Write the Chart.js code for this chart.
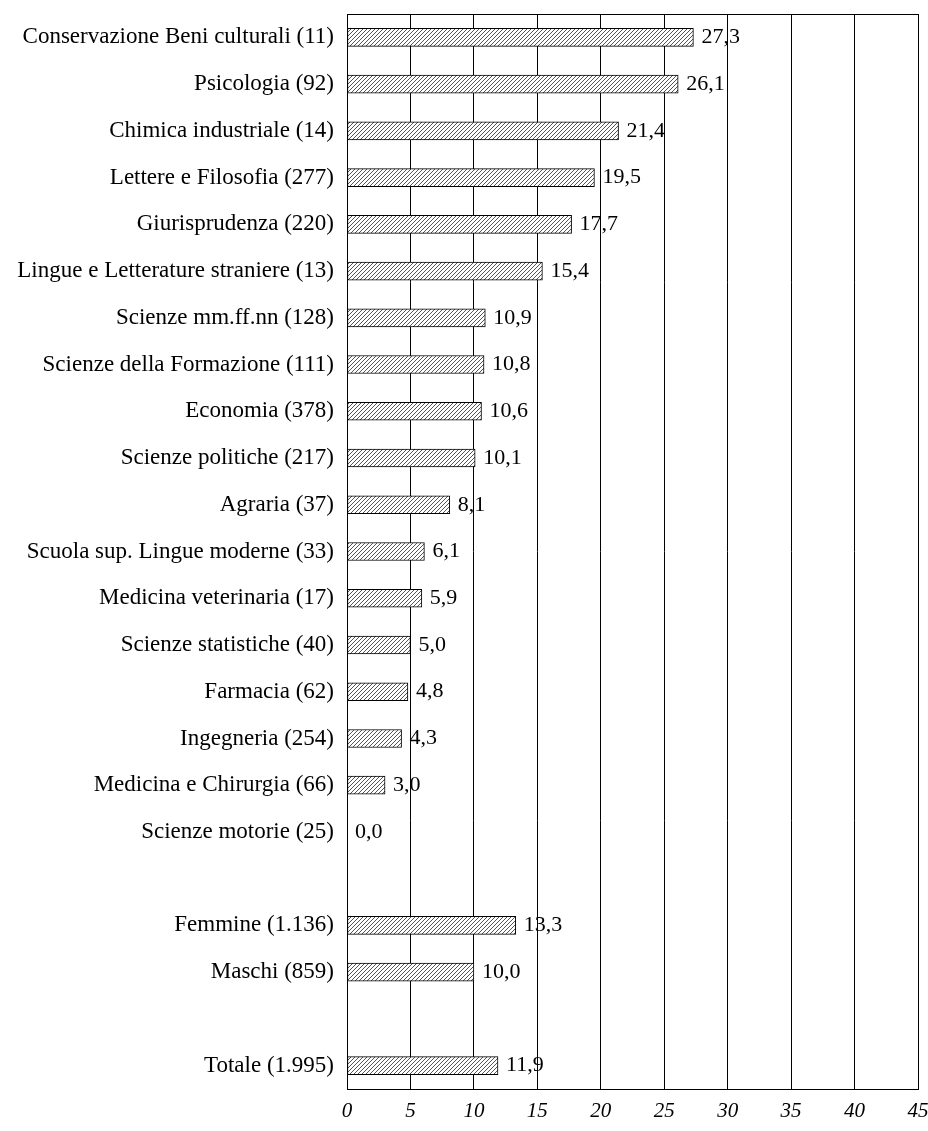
<!DOCTYPE html>
<html>
<head>
<meta charset="utf-8">
<script src="https://cdn.jsdelivr.net/npm/chart.js@4.4.1/dist/chart.umd.min.js"></script>
<style>
  html, body { margin: 0; padding: 0; background: #fff; }
  #wrap { width: 928px; height: 1131px; }
</style>
</head>
<body>
<div id="wrap"><canvas id="mychart" width="928" height="1131"></canvas></div>
<script>
// categorie (le righe vuote separano i gruppi)
const labels = [
  'Conservazione Beni culturali (11)',
  'Psicologia (92)',
  'Chimica industriale (14)',
  'Lettere e Filosofia (277)',
  'Giurisprudenza (220)',
  'Lingue e Letterature straniere (13)',
  'Scienze mm.ff.nn (128)',
  'Scienze della Formazione (111)',
  'Economia (378)',
  'Scienze politiche (217)',
  'Agraria (37)',
  'Scuola sup. Lingue moderne (33)',
  'Medicina veterinaria (17)',
  'Scienze statistiche (40)',
  'Farmacia (62)',
  'Ingegneria (254)',
  'Medicina e Chirurgia (66)',
  'Scienze motorie (25)',
  '',
  'Femmine (1.136)',
  'Maschi (859)',
  '',
  'Totale (1.995)'
];

const values = [
  27.3, 26.1, 21.4, 19.5, 17.7, 15.4, 10.9, 10.8, 10.6, 10.1,
  8.1, 6.1, 5.9, 5.0, 4.8, 4.3, 3.0, 0.0,
  null,
  13.3, 10.0,
  null,
  11.9
];

const xTicks = [0, 5, 10, 15, 20, 25, 30, 35, 40, 45];

// tratteggio delle barre
function makeHatch() {
  const c = document.createElement('canvas');
  c.width = 4; c.height = 4;
  const g = c.getContext('2d');
  g.fillStyle = '#fff';
  g.fillRect(0, 0, 4, 4);
  g.strokeStyle = '#555';
  g.lineWidth = 1;
  g.beginPath();
  g.moveTo(0, 4); g.lineTo(4, 0);
  g.moveTo(-1, 1); g.lineTo(1, -1);
  g.moveTo(3, 5); g.lineTo(5, 3);
  g.stroke();
  return g.createPattern(c, 'repeat');
}

const font = "'Liberation Serif', 'Times New Roman', serif";

// etichette dei valori e cornice
const extras = {
  id: 'extras',
  afterDatasetsDraw(chart) {
    const ctx = chart.ctx;
    const meta = chart.getDatasetMeta(0);
    ctx.save();
    ctx.font = '22px ' + font;
    ctx.fillStyle = '#000';
    ctx.textAlign = 'left';
    ctx.textBaseline = 'middle';
    meta.data.forEach((bar, i) => {
      const v = values[i];
      if (v === null) return;
      ctx.fillText(v.toFixed(1).replace('.', ','), bar.x + 8, bar.y);
    });
    const a = chart.chartArea;
    ctx.strokeStyle = '#000';
    ctx.lineWidth = 1;
    ctx.strokeRect(Math.round(a.left) + 0.5, Math.round(a.top) + 0.5,
      Math.round(a.right - a.left), Math.round(a.bottom - a.top));
    ctx.restore();
  }
};

const data = {
  labels: labels,
  datasets: [{
    data: values,
    backgroundColor: makeHatch(),
    borderColor: '#000',
    borderWidth: 1,
    borderSkipped: false,
    barThickness: 18
  }]
};

const options = {
  indexAxis: 'y',
  responsive: false,
  animation: false,
  layout: { padding: { top: 14, right: 10 } },
  scales: {
    x: {
      min: 0,
      max: 45,
      afterBuildTicks: (s) => { s.ticks = xTicks.map(v => ({ value: v })); },
      afterFit: (s) => { s.height = 42; s.paddingLeft = 0; s.paddingRight = 0; },
      grid: { color: '#000', lineWidth: 1, drawTicks: false },
      border: { display: true, color: '#000' },
      ticks: {
        padding: 10,
        color: '#000',
        font: { family: font, size: 21, style: 'italic' },
        maxRotation: 0
      }
    },
    y: {
      afterFit: (s) => { s.width = 347; s.paddingTop = 0; s.paddingBottom = 0; },
      grid: { display: false, drawTicks: false },
      border: { display: true, color: '#000' },
      ticks: {
        padding: 13,
        color: '#000',
        autoSkip: false,
        font: { family: font, size: 23 }
      }
    }
  },
  plugins: {
    legend: false,
    tooltip: { enabled: false }
  }
};

new Chart(document.getElementById('mychart'), {
  type: 'bar',
  data: data,
  options: options,
  plugins: [extras]
});
</script>
</body>
</html>
